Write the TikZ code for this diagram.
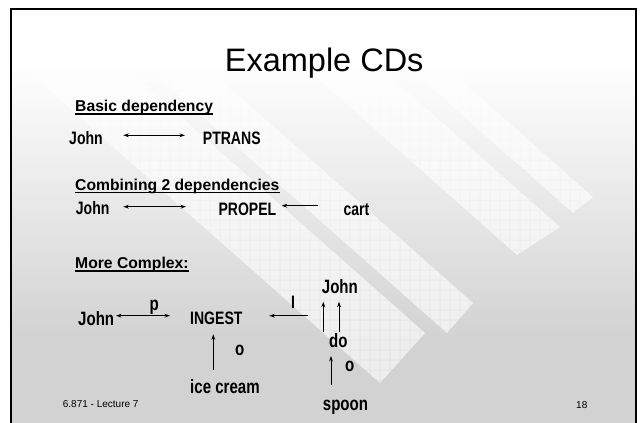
\documentclass[tikz,border=0pt]{standalone}
\usepackage{fontspec}
\setmainfont{Liberation Sans}
\newfontfamily\cdfont[FakeStretch=0.78]{Liberation Sans}
\usetikzlibrary{arrows.meta}
\definecolor{bgg}{HTML}{D2D2D2}
\tikzset{
  txt/.style={inner sep=0pt, anchor=base west},
  cdw/.style={txt, font=\cdfont\bfseries\fontsize{18}{21}\selectfont},
  cdb/.style={txt, font=\cdfont\bfseries\fontsize{19.3}{22}\selectfont},
  head/.style={txt, font=\bfseries\fontsize{15.7}{18}\selectfont},
  foot/.style={txt, font=\fontsize{10}{12}\selectfont},
  arr/.style={line width=0.85pt, -{Stealth[length=5.5pt,width=3.8pt]}},
  darr/.style={line width=0.85pt, {Stealth[length=5.5pt,width=3.8pt]}-{Stealth[length=5.5pt,width=3.8pt]}},
  uline/.style={line width=1.2pt},
  band/.style={white}
}
\begin{document}
\begin{tikzpicture}[x=1pt,y=-1pt]
\useasboundingbox (0,0) rectangle (640,423);
% background
\fill[white] (0,0) rectangle (640,423);
\fill[white] (11,9) rectangle (636,60);
\shade[top color=white, bottom color=bgg] (11,60) rectangle (636,340);
\fill[bgg] (11,340) rectangle (636,423);
% diagonal light bands
\begin{scope}
  \clip (11,9) rectangle (636,423);
  \clip (380,383) -- (425,333) -- (-24.4,-64.8) -- (-69.4,-14.8) -- cycle
        (447,333) -- (473,303) -- (23.6,-94.8) -- (-2.4,-64.8) -- cycle
        (517,255) -- (560,227) -- (110.6,-170.8) -- (67.6,-142.8) -- cycle
        (573,213) -- (593,197) -- (143.6,-200.8) -- (123.6,-184.8) -- cycle;
  \fill[band, opacity=.42] (0,0) rectangle (640,423);
  \fill[band, opacity=.4] \foreach \i in {1,...,63}{\foreach \j in {8,...,42}{ (\i*10+0.5,\j*10+0.5) rectangle ++(9,9) }};
\end{scope}
% frame
\draw[line width=2.3pt] (11.2,425) -- (11.2,9.3) -- (636,9.3) -- (636,425);

% title
\node[inner sep=0pt, anchor=base, font=\fontsize{32.5}{38}\selectfont] (title) at (324.2,71.7) {Example CDs};

% headings
\node[head] (h1) at (75,111.7) {Basic dependency};
\draw[uline] ([yshift=-2.3pt]h1.base west) -- ([yshift=-2.3pt]h1.base east);
\node[head] (h2) at (75,190) {Combining 2 dependencies};
\draw[uline] ([yshift=-2.7pt]h2.base west) -- ([yshift=-2.7pt]h2.base east);
\node[head] (h3) at (75,268.7) {More Complex:};
\draw[uline] ([yshift=-2.3pt]h3.base west) -- ([yshift=-2.3pt]h3.base east);

% row 1
\node[cdw] (j1) at (69,144) {John};
\node[cdw] (pt) at (202.7,144) {PTRANS};
\draw[darr] ([xshift=54.3pt,yshift=8.7pt]j1.base west) -- ([xshift=-17.7pt,yshift=8.7pt]pt.base west);

% row 2
\node[cdw] (j2) at (75.7,214.3) {John};
\node[cdw] (pr) at (218.3,215) {PROPEL};
\node[cdw] (cart) at (343.3,215) {cart};
\draw[darr] ([xshift=47.6pt,yshift=7.6pt]j2.base west) -- ([xshift=-32.3pt,yshift=8.3pt]pr.base west);
\draw[arr] ([xshift=-25pt,yshift=9.3pt]cart.base west) -- ([xshift=63.4pt,yshift=9.3pt]pr.base west);

% row 3
\node[cdb] (j3) at (78,325) {John};
\node[cdw] (ing) at (190,324.3) {INGEST};
\node[cdb] (p) at (149.3,310) {p};
\draw[darr] ([xshift=38pt,yshift=9.3pt]j3.base west) -- ([xshift=-20pt,yshift=8.6pt]ing.base west);

\node[cdb] (ic) at (190,393.3) {ice cream};
\node[cdb] (o1) at (235,355) {o};
\draw[arr] ([xshift=23.3pt,yshift=23.3pt]ic.base west) -- ([xshift=23.3pt,yshift=-10pt]ing.base west);

\coordinate (iend) at (308.3,315.7);
\node[cdw] (ilab) at (291,308.3) {I};
\draw[arr] (iend) -- ([xshift=79.3pt,yshift=8.6pt]ing.base west);

\node[cdb] (j4) at (321.7,293.3) {John};
\node[cdb] (do) at (329,347.3) {do};
\draw[arr] ([xshift=-5.7pt,yshift=15.6pt]do.base west) -- ([xshift=1.6pt,yshift=-8.4pt]j4.base west);
\draw[arr] ([xshift=10pt,yshift=15.6pt]do.base west) -- ([xshift=17.3pt,yshift=-8.4pt]j4.base west);

\node[cdb] (sp) at (322.7,410) {spoon};
\node[cdb] (o2) at (345,371) {o};
\draw[arr] ([xshift=8.3pt,yshift=25pt]sp.base west) -- ([xshift=2pt,yshift=-8.7pt]do.base west);

% footer
\node[foot] (ft) at (62.7,407.7) {6.871 - Lecture 7};
\node[foot] (pg) at (576,408.3) {18};
\end{tikzpicture}
\end{document}
